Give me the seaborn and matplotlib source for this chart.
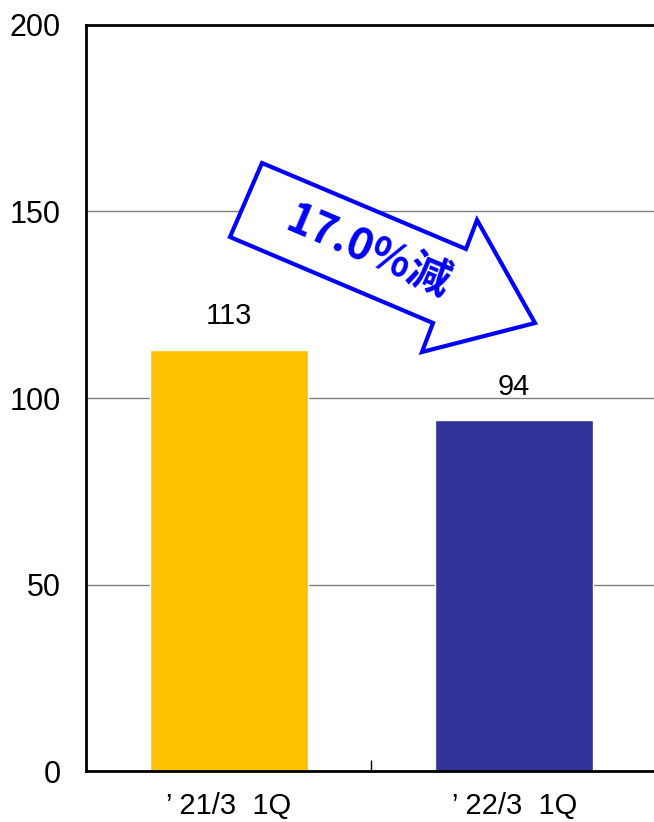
import matplotlib
matplotlib.use("Agg")
import matplotlib.pyplot as plt
import seaborn as sns
from matplotlib.patches import Polygon

# data
categories = ["\u2019 21/3  1Q", "\u2019 22/3  1Q"]
values = [113, 94]
bar_colors = ["#FFC000", "#333399"]
y_ticks = [0, 50, 100, 150, 200]
change_label = "17.0%減"

W, H = 654, 822

sns.set_theme(style="white")
plt.rcParams["font.family"] = ["Liberation Sans", "DejaVu Sans"]

fig = plt.figure(figsize=(W / 100, H / 100), dpi=100)
ax = fig.add_axes([86 / W, 51 / H, (657 - 86) / W, (771 - 25) / H])

sns.barplot(x=categories, y=values, hue=categories, palette=bar_colors,
            width=0.555, legend=False, saturation=1, ax=ax)

ax.set_xlim(-0.5, 1.5)
ax.set_ylim(0, 200)
ax.set_yticks(y_ticks)
ax.yaxis.grid(True, color="#808080", linewidth=1)
ax.set_axisbelow(True)
for s in ["left", "bottom", "top"]:
    ax.spines[s].set_color("black")
    ax.spines[s].set_linewidth(2)
ax.spines["right"].set_visible(False)

ax.tick_params(axis="y", direction="in", length=5, width=1, color="black",
               pad=18, labelsize=22, labelcolor="black")
ax.tick_params(axis="x", which="major", length=0, pad=15, labelsize=21,
               labelcolor="black")
ax.set_xticks([0.5], minor=True)
ax.tick_params(axis="x", which="minor", direction="in", length=8, width=1,
               color="black", bottom=True)
ax.set_xlabel("")
ax.set_ylabel("")

for i, v in enumerate(values):
    ax.annotate(str(v), (i, v), xytext=(0, 14), textcoords="offset points",
                ha="center", va="bottom", fontsize=21, color="black")

# arrow callout (figure pixels)
arrow_px = [(262, 163), (230, 237), (433, 323), (422, 352),
            (535, 323), (477, 220), (466, 249)]
arrow_pts = [(x / W, 1 - y / H) for x, y in arrow_px]
fig.patches.append(Polygon(arrow_pts, closed=True, fill=True, facecolor="white",
                           edgecolor="#0000FF", linewidth=3,
                           transform=fig.transFigure, zorder=5))
fig.text(368 / W, 1 - 251 / H, change_label, rotation=-23, ha="center",
         va="center", fontsize=31, fontweight="bold", color="#0000FF",
         family=["Noto Sans CJK JP", "DejaVu Sans"], rotation_mode="anchor",
         zorder=6)

fig.savefig("out.png", dpi=100)
